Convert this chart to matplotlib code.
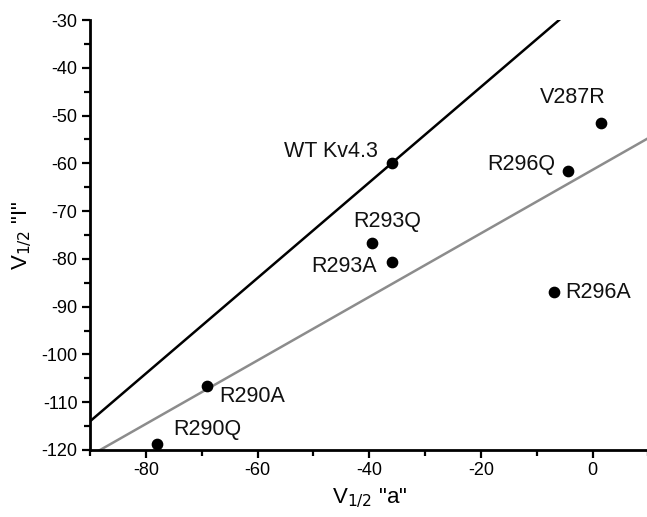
import numpy as np
import matplotlib.pyplot as plt

plt.rcParams['font.family'] = ['Liberation Sans', 'DejaVu Sans']
plt.rcParams['axes.unicode_minus'] = False

# V1/2 "a" (x) and V1/2 "I" (y) for each construct
names = ["WT Kv4.3", "V287R", "R296Q", "R293Q", "R293A", "R296A", "R290A", "R290Q"]
v_a = [-36.0, 1.5, -4.5, -39.5, -36.0, -7.0, -69.0, -78.0]
v_i = [-60.0, -51.5, -61.5, -76.6, -80.7, -86.9, -106.7, -118.7]

# label offsets in pixels (dx, dy) and alignment
label_dx = [-14, -28, -12, 15, -15, 12, 12, 16]
label_dy = [12, 25, 6, 21, -4, -1, -10, 14]
label_ha = ["right", "center", "right", "center", "right", "left", "left", "left"]

# reference lines: slope, intercept
black_line = (1.0, -24.0)
gray_line = (0.665, -61.35)

fig = plt.figure(figsize=(6.47, 5.17), dpi=100)
ax = fig.add_axes([0.1391, 0.1296, 0.8632, 0.8317])

xs = np.array([-90, 10])
ax.plot(xs, black_line[0] * xs + black_line[1], color="black", lw=1.8, zorder=2)
ax.plot(xs, gray_line[0] * xs + gray_line[1], color="#8c8c8c", lw=1.8, zorder=2)
ax.scatter(v_a, v_i, s=55, color="black", zorder=3)

for n, x, y, dx, dy, ha in zip(names, v_a, v_i, label_dx, label_dy, label_ha):
    ax.annotate(n, (x, y), xytext=(dx, dy), textcoords="offset pixels",
                ha=ha, va="center", fontsize=15.5, color="#111111")

ax.set_xlim(-90, 10)
ax.set_ylim(-120, -30)
ax.set_xticks([-80, -60, -40, -20, 0])
ax.set_xticks(np.arange(-90, 11, 10), minor=True)
ax.set_yticks(np.arange(-120, -29, 10))
ax.set_yticks(np.arange(-120, -29, 5), minor=True)

for side in ["top", "right"]:
    ax.spines[side].set_visible(False)
for side in ["left", "bottom"]:
    ax.spines[side].set_linewidth(2)

ax.tick_params(which="major", length=6, width=1.6, labelsize=13, direction="out", pad=3)
ax.tick_params(which="minor", length=4, width=1.6, direction="out")

ax.set_xlabel('V$_{1/2}$ "a"', fontsize=16, labelpad=5)
ax.set_ylabel('V$_{1/2}$ "I"', fontsize=16, labelpad=5)

fig.savefig("out.png", dpi=100)
